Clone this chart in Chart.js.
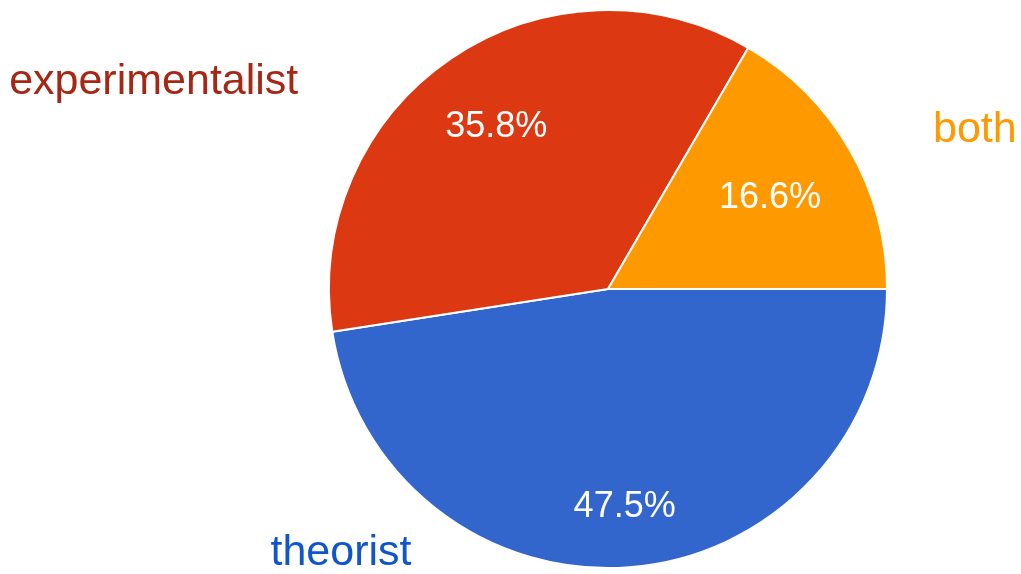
<!DOCTYPE html>
<html>
<head>
<meta charset="utf-8">
<script src="https://cdn.jsdelivr.net/npm/chart.js@4/dist/chart.umd.min.js"></script>
<style>
    html, body { margin: 0; padding: 0; background: #fff; }
    #chart-pie { display: block; }
</style>
</head>
<body>
<canvas id="chart-pie" width="1021" height="574"></canvas>
<script>
const categories = ['theorist', 'experimentalist', 'both'];
const shares = [47.5, 35.8, 16.6];
const sliceColors = ['#3366cc', '#dc3912', '#ff9900'];
const nameColors = ['#1155cc', '#a52714', '#ff9900'];

//Labels drawn on top of the pie
const pieLabels = {
    id: 'pieLabels',
    afterDatasetsDraw(chart) {
        const ctx = chart.ctx;
        const arcs = chart.getDatasetMeta(0).data;
        const inside = [0.775, 0.71, 0.67];
        // name labels: offsets from pie centre, in radius units
        const outside = [
            {dx: -0.957, dy: 0.99, align: 'center'},
            {dx: -1.11, dy: -0.70, align: 'right'},
            {dx: 1.315, dy: -0.527, align: 'center'}
        ];
        ctx.save();
        arcs.forEach((arc, i) => {
            const mid = (arc.startAngle + arc.endAngle) / 2;
            const r = arc.outerRadius;
            ctx.fillStyle = '#fff';
            ctx.font = '36px "Liberation Sans", Arial, sans-serif';
            ctx.textAlign = 'center';
            ctx.textBaseline = 'middle';
            ctx.fillText(shares[i].toFixed(1) + '%',
                arc.x + Math.cos(mid) * r * inside[i],
                arc.y + Math.sin(mid) * r * inside[i] + 2);

            const o = outside[i];
            ctx.fillStyle = nameColors[i];
            ctx.font = '43px "Liberation Sans", Arial, sans-serif';
            ctx.textAlign = o.align;
            ctx.textBaseline = 'alphabetic';
            ctx.fillText(categories[i], arc.x + o.dx * r, arc.y + o.dy * r);
        });
        ctx.restore();
    }
};

const ctx = document.getElementById('chart-pie').getContext('2d');
const chartPie = new Chart(ctx, {
    type: 'pie',
    data: {
        labels: categories,
        datasets: [{
            data: shares,
            backgroundColor: sliceColors,
            borderColor: '#fff',
            borderWidth: 2
        }]
    },
    options: {
        responsive: false,
        animation: false,
        rotation: 90,
        layout: {
            padding: {left: 328, right: 133, top: 9, bottom: 5}
        },
        plugins: {
            legend: { display: false },
            tooltip: { enabled: false }
        }
    },
    plugins: [pieLabels]
});
</script>
</body>
</html>
